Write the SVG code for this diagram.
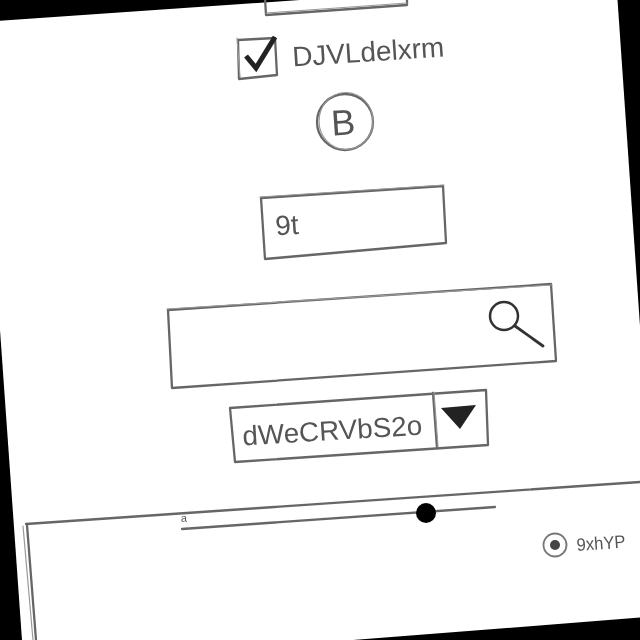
<svg xmlns="http://www.w3.org/2000/svg" width="640" height="640" viewBox="0 0 640 640">
<defs><filter id="soft" x="-5%" y="-5%" width="110%" height="110%"><feGaussianBlur stdDeviation="0.7"/></filter></defs>
<style>
.l{fill:none;stroke:#666;stroke-width:2.300;stroke-linecap:round;stroke-linejoin:round}
.l2{fill:none;stroke:#999;stroke-width:1.200;stroke-linecap:round;stroke-linejoin:round}
.t{font-family:"Liberation Sans",Arial,sans-serif;fill:#555}
</style>
<rect width="640" height="640" fill="#000"/>
<polygon points="-2,21 616,-22 660,616 353,640 22,640 0,330" fill="#fff"/>
<g filter="url(#soft)">
<g id="top-box"><path class="l" d="M265,-2 L266,15 L407,5 L407,-2"/><path class="l2" d="M266,13 L407,3"/></g>
<g id="checkbox">
<path class="l" d="M238,40 L275,38 L277,75 L239,79 Z"/><path class="l2" d="M237,38 L240,77"/>
<path d="M246,56 L256,68 L275,37" fill="none" stroke="#222" stroke-width="5" stroke-linejoin="miter"/>
<text class="t" transform="translate(293,66.500) rotate(-3.800)" font-size="28" textLength="152" lengthAdjust="spacingAndGlyphs">DJVLdelxrm</text>
</g>
<g id="circle-b">
<circle cx="345" cy="122" r="28" class="l"/><ellipse cx="346" cy="121" rx="27" ry="28.500" class="l2"/>
<text class="t" transform="translate(344,135) rotate(-4)" font-size="36" text-anchor="middle">B</text>
</g>
<g id="input-9t">
<path class="l" d="M261,198 L443,186 L446,243 L265,259 Z"/><path class="l2" d="M260,197 L444,185"/>
<text class="t" transform="translate(276,235.500) rotate(-4)" font-size="28">9t</text>
</g>
<g id="search">
<path class="l" d="M168,310 L551,284 L556,361 L172,388 Z"/><path class="l2" d="M167,309 L552,285"/>
<circle cx="504" cy="316" r="14" fill="none" stroke="#333" stroke-width="2.500"/>
<path d="M515,326 L543,346" fill="none" stroke="#333" stroke-width="2.800" stroke-linecap="round"/>
</g>
<g id="combo">
<path class="l" d="M230,408 L486,390 L488,445 L235,462 Z"/><path class="l" d="M433,393 L437,448"/><path class="l2" d="M434,392 L438,447"/>
<text class="t" transform="translate(243,445.500) rotate(-3.500)" font-size="27.500" textLength="180" lengthAdjust="spacingAndGlyphs">dWeCRVbS2o</text>
<polygon points="441,408 476,405 460,429" fill="#222"/>
</g>
<g id="panel">
<path class="l" d="M26,524 L640,482"/><path class="l" d="M27,525 L36,640"/><path class="l2" d="M23,526 L33,640"/>
</g>
<g id="slider">
<path class="l" d="M182,529 L495,507"/>
<circle cx="426" cy="513" r="10" fill="#000"/>
<text class="t" transform="translate(181,522) rotate(-4)" font-size="11">a</text>
</g>
<g id="radio">
<circle cx="555" cy="545" r="11.500" fill="none" stroke="#777" stroke-width="1.800"/><circle cx="555" cy="545" r="5" fill="#444"/>
<text class="t" transform="translate(577,551) rotate(-4)" font-size="18" textLength="49" lengthAdjust="spacingAndGlyphs" fill="#666">9xhYP</text>
</g>
</g>
</svg>
